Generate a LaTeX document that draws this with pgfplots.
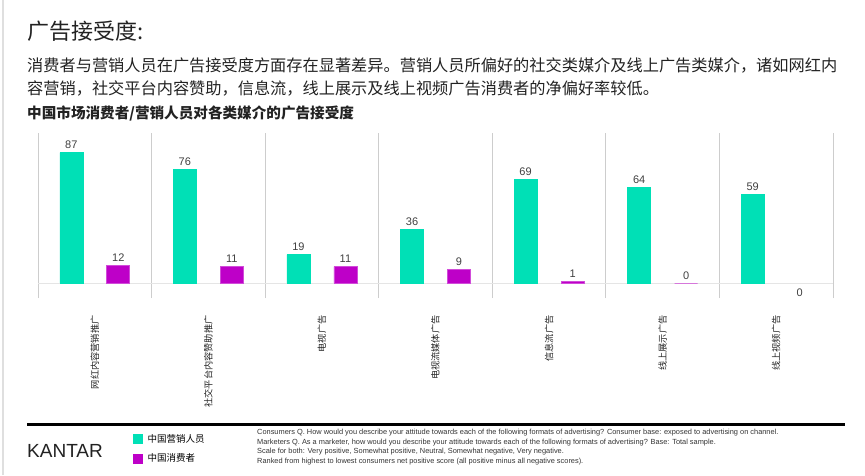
\documentclass[border=0pt]{standalone}
\usepackage{pgfplots}
\pgfplotsset{compat=1.18}
\usepackage{pgfplotstable}
\usepackage{fontspec}
\setmainfont{Liberation Sans}
\newfontfamily\cjk{Noto Sans CJK SC}
\definecolor{mkt}{RGB}{0,224,182}
\definecolor{con}{RGB}{190,0,200}
\definecolor{txt}{RGB}{34,34,34}
\definecolor{sepg}{RGB}{205,205,205}
\pgfplotstableread{
x m ml
0 87 87
1 76 76
2 19 19
3 36 36
4 69 69
5 64 64
6 59 59
}\mkdata
\pgfplotstableread{
x c cl
0 12 12
1 11 11
2 11 11
3 9 9
4 1 1
5 0 0
}\condata
\pgfplotstableread{
x c cl
6 -0.3 0
}\conneg
\begin{document}
\begin{tikzpicture}[x=1pt,y=1pt]
\path[use as bounding box] (0,0) rectangle (865,475);
\draw[gray!25, line width=1.5pt] (3,0) -- (3,475);
\node[anchor=base west, text=txt, font=\cjk\fontsize{22}{26}\selectfont, inner sep=0] at (27,435) {广告接受度:};
\node[anchor=base west, text=txt, font=\cjk\fontsize{16.2}{20}\selectfont, inner sep=0] at (27,403) {消费者与营销人员在广告接受度方面存在显著差异。营销人员所偏好的社交类媒介及线上广告类媒介，诸如网红内};
\node[anchor=base west, text=txt, font=\cjk\fontsize{16.2}{20}\selectfont, inner sep=0] at (27,381) {容营销，社交平台内容赞助，信息流，线上展示及线上视频广告消费者的净偏好率较低。};
\node[anchor=base west, text=txt, font=\cjk\bfseries\fontsize{14.6}{18}\selectfont, inner sep=0] at (27,356) {中国市场消费者/营销人员对各类媒介的广告接受度};
\begin{axis}[
  at={(38pt,177pt)}, anchor=south west,
  scale only axis, width=795pt, height=165pt,
  xmin=-0.5, xmax=6.5, ymin=-10, ymax=100,
  axis line style={draw=none},
  ytick=\empty,
  xtick={0,...,6},
  xticklabels={网红内容营销推广,社交平台内容赞助推广,电视广告,电视流媒体广告,信息流广告,线上展示广告,线上视频广告},
  xticklabel style={rotate=90, anchor=east, font=\cjk\fontsize{9.2}{10}\selectfont, text=txt},
  xticklabel shift=14pt,
  major tick length=0pt, minor tick length=0pt,
  minor xtick={-0.5,0.5,...,6.5},
  xminorgrids=true, minor grid style={sepg, line width=0.8pt},
  extra y ticks={0}, extra y tick labels={},
  extra y tick style={grid=major, major grid style={gray!20, line width=1pt}},
  ybar, bar width=23pt,
  nodes near coords, point meta=explicit symbolic,
  nodes near coords style={font=\fontsize{11}{13}\selectfont, text=black!75},
  legend style={at={(0.1195,-0.812)}, anchor=north west, draw=none, fill=none,
    font=\cjk\fontsize{9.5}{11}\selectfont, row sep=6pt, inner sep=0pt},
  legend cell align=left,
  clip=false,
]
\addplot[fill=mkt, draw=mkt, bar shift=-23.5pt, legend image code/.code={\fill[mkt] (0pt,-4.5pt) rectangle (9pt,4.5pt); \path[draw=none, fill=none] (0pt,0pt) -- (12pt,0pt);}] table[x=x, y=m, meta=ml] {\mkdata};
\addlegendentry{中国营销人员}
\addplot[fill=con, draw=con!70, line width=0.6pt, bar shift=23.5pt, legend image code/.code={\fill[con] (0pt,-4.5pt) rectangle (9pt,4.5pt); \path[draw=none, fill=none] (0pt,0pt) -- (12pt,0pt);}] table[x=x, y=c, meta=cl] {\condata};
\addlegendentry{中国消费者}
\addplot[draw=none, fill=none, bar shift=23.5pt, forget plot, every node near coord/.append style={anchor=north, yshift=-2pt}] table[x=x, y=c, meta=cl] {\conneg};
\end{axis}
\draw[line width=3pt, black] (27,51) -- (845,51);
\node[anchor=west, inner sep=0, font=\fontsize{19}{22}\selectfont, text=txt] at (27,24) {KANTAR};
\node[anchor=north west, align=left, font=\fontsize{7.4}{9.7}\selectfont, text=black!80, inner sep=0] at (257,46) {Consumers Q. How would you describe your attitude towards each of the following formats of advertising? Consumer base: exposed to advertising on channel.\\
Marketers Q. As a marketer, how would you describe your attitude towards each of the following formats of advertising? Base: Total sample.\\
Scale for both: Very positive, Somewhat positive, Neutral, Somewhat negative, Very negative.\\
Ranked from highest to lowest consumers net positive score (all positive minus all negative scores).};
\end{tikzpicture}
\end{document}
